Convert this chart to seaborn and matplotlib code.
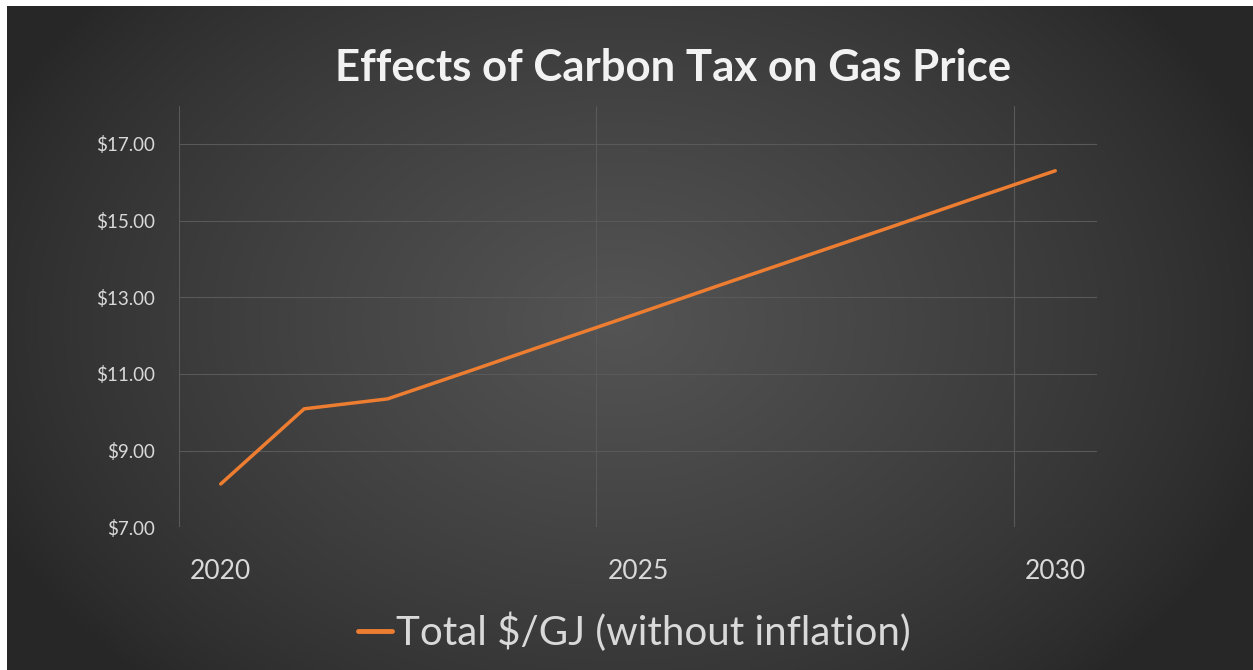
import numpy as np
import pandas as pd
import matplotlib
matplotlib.use("Agg")
import matplotlib.pyplot as plt
import seaborn as sns

years = [2020, 2021, 2022, 2023, 2024, 2025, 2026, 2027, 2028, 2029, 2030]
total_price = [8.13, 10.09, 10.35, 11.09, 11.84, 12.58, 13.33, 14.07, 14.81, 15.56, 16.30]
series_label = "Total $/GJ (without inflation)"
title = "Effects of Carbon Tax on Gas Price"
y_ticks = [7, 9, 11, 13, 15, 17]
x_ticks = [2020, 2025, 2030]

sns.set_theme(style="dark")
plt.rcParams['font.family'] = ['Lato', 'DejaVu Sans']

W, H = 1253, 670
fig = plt.figure(figsize=(W / 100, H / 100), dpi=100, facecolor="white")

# background radial gradient panel
bg = fig.add_axes([7 / W, 0, 1 - 8 / W, 1 - 6 / H])
bg.set_axis_off()
gx = np.linspace(-1, 1, 600)
gy = np.linspace(-1, 1, 330)
X, Y = np.meshgrid(gx, gy)
R = np.sqrt(((X + 0.02) / 1.1) ** 2 + ((Y + 0.05) / 1.5) ** 2)
t = np.clip(1 - R, 0, 1) ** 0.8
val = (0x27 + (0x54 - 0x27) * t) / 255.0
img = np.dstack([val, val, val])
bg.imshow(img, aspect="auto", extent=[0, 1, 0, 1], interpolation="bilinear")
bg.set_xlim(0, 1)
bg.set_ylim(0, 1)

# main axes
left, right = 179 / W, 1097 / W
bottom, top = (H - 527.3) / H, (H - 105.6) / H
ax = fig.add_axes([left, bottom, right - left, top - bottom])
ax.patch.set_alpha(0)

df = pd.DataFrame({"Year": years, "Price": total_price})
sns.lineplot(data=df, x="Year", y="Price", ax=ax, color="#ED7D31",
             linewidth=2.5, label=series_label, solid_capstyle="round")

ax.set_xlim(2019.5, 2030.5)
ax.set_ylim(7, 18)
ax.set_yticks(y_ticks)
ax.set_yticklabels([f"${v:.2f}" for v in y_ticks])
ax.set_xticks(x_ticks)
ax.set_xticklabels([str(v) for v in x_ticks])
ax.set_xlabel("")
ax.set_ylabel("")

for s in ax.spines.values():
    s.set_visible(False)
ax.grid(False)
for v in y_ticks:
    ax.axhline(v, color="#595959", linewidth=0.8, zorder=0)
for v in [2019.5, 2024.5, 2029.5]:
    ax.axvline(v, color="#595959", linewidth=0.8, zorder=0)

ax.tick_params(axis="y", length=0, pad=17, labelsize=13.5, labelcolor="#d9d9d9")
ax.tick_params(axis="x", length=0, pad=23, labelsize=19, labelcolor="#d9d9d9")

fig.text(0.537, 1 - 68 / H, title, ha="center", va="center",
         fontsize=31.5, fontweight="bold", color="#f2f2f2")

leg = ax.legend(loc="center", bbox_to_anchor=(634 / W, 1 - 632 / H),
                bbox_transform=fig.transFigure, frameon=False,
                fontsize=29, handlelength=0.85, handletextpad=0.1,
                labelcolor="#d9d9d9")
for h in leg.get_lines():
    h.set_linewidth(3.5)

fig.savefig("out.png", dpi=100, facecolor="white")
